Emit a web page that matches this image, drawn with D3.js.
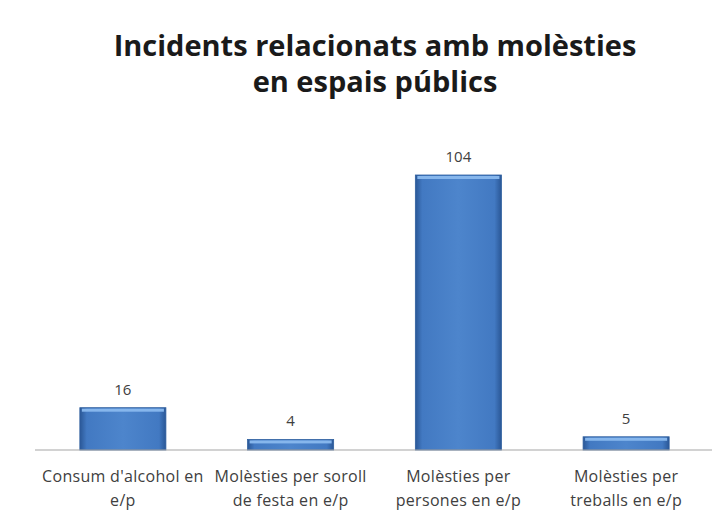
<!DOCTYPE html>
<html>
<head>
<meta charset="utf-8">
<script src="https://cdn.jsdelivr.net/npm/d3@7"></script>
<style>
  body { margin: 0; background: #fff; }
</style>
</head>
<body>
<div id="chart"></div>
<script>
const categories = ["cat1", "cat2", "cat3", "cat4"];
const categoryLabels = [
  ["Consum d'alcohol en", "e/p"],
  ["Molèsties per soroll", "de festa en e/p"],
  ["Molèsties per", "persones en e/p"],
  ["Molèsties per", "treballs en e/p"]
];
const values = [16, 4, 104, 5];
const titleLines = ["Incidents relacionats amb molèsties", "en espais públics"];

const W = 716, H = 521;
const MARGIN = { LEFT: 39, RIGHT: 6, TOP: 175, BOTTOM: 71 };
const WIDTH = W - MARGIN.LEFT - MARGIN.RIGHT;
const HEIGHT = H - MARGIN.TOP - MARGIN.BOTTOM;

const svg = d3.select("#chart").append("svg")
  .attr("width", W)
  .attr("height", H);

// bar gradient
const defs = svg.append("defs");
const grad = defs.append("linearGradient").attr("id", "barGrad")
  .attr("x1", "0%").attr("x2", "100%").attr("y1", "0%").attr("y2", "0%");
grad.append("stop").attr("offset", "0%").attr("stop-color", "#2a5796");
grad.append("stop").attr("offset", "8%").attr("stop-color", "#4279c2");
grad.append("stop").attr("offset", "50%").attr("stop-color", "#4d85cc");
grad.append("stop").attr("offset", "92%").attr("stop-color", "#4279c2");
grad.append("stop").attr("offset", "100%").attr("stop-color", "#2a5796");

// title
svg.append("g").selectAll("text")
  .data(titleLines)
  .enter().append("text")
  .attr("x", 375)
  .attr("y", (d, i) => 56 + i * 36)
  .attr("text-anchor", "middle")
  .attr("font-family", "'Open Sans', sans-serif")
  .attr("font-weight", "bold")
  .attr("font-size", "29px")
  .attr("fill", "#1a1a1a")
  .text(d => d);

const g = svg.append("g")
  .attr("transform", `translate(${MARGIN.LEFT}, ${MARGIN.TOP})`);

// scales
const x = d3.scaleBand().domain(categories).range([0, WIDTH]).paddingInner(0.487).paddingOuter(0.2435);
const y = d3.scaleLinear().domain([0, 104]).range([HEIGHT, 0]);

// bars
const bars = g.selectAll(".bar")
  .data(values)
  .enter().append("g")
  .attr("class", "bar");

bars.append("rect")
  .attr("x", (d, i) => x(categories[i]))
  .attr("y", d => y(d))
  .attr("width", x.bandwidth())
  .attr("height", d => HEIGHT - y(d))
  .attr("fill", "url(#barGrad)")
  .attr("stroke", "#2f5f9e")
  .attr("stroke-width", 0.8);

// top highlight
bars.append("rect")
  .attr("x", (d, i) => x(categories[i]) + 2)
  .attr("y", d => y(d) + 1)
  .attr("width", x.bandwidth() - 4)
  .attr("height", 3)
  .attr("fill", "#86b6ec");

// value labels
bars.append("text")
  .attr("x", (d, i) => x(categories[i]) + x.bandwidth() / 2)
  .attr("y", d => y(d) - 13)
  .attr("text-anchor", "middle")
  .attr("font-family", "'Open Sans', sans-serif")
  .attr("font-size", "15px")
  .attr("fill", "#404040")
  .text(d => d);

// baseline axis
const xAxis = d3.axisBottom(x).tickSize(0).tickFormat("");
const axisG = g.append("g")
  .attr("transform", `translate(0, ${HEIGHT})`)
  .call(xAxis);
axisG.select(".domain")
  .attr("d", `M-4,0H${WIDTH + 2}`)
  .attr("stroke", "#a6a6a6")
  .attr("stroke-width", 1.2);

// category labels
const lab = g.append("g").selectAll("text")
  .data(categoryLabels)
  .enter().append("text")
  .attr("x", (d, i) => x(categories[i]) + x.bandwidth() / 2)
  .attr("y", HEIGHT + 32)
  .attr("text-anchor", "middle")
  .attr("font-family", "'Open Sans', sans-serif")
  .attr("font-size", "16px")
  .attr("letter-spacing", "0.3px")
  .attr("fill", "#404040");
lab.selectAll("tspan")
  .data(d => d)
  .enter().append("tspan")
  .attr("x", function() { return d3.select(this.parentNode).attr("x"); })
  .attr("dy", (d, i) => i === 0 ? 0 : 24)
  .text(d => d);
</script>
</body>
</html>
